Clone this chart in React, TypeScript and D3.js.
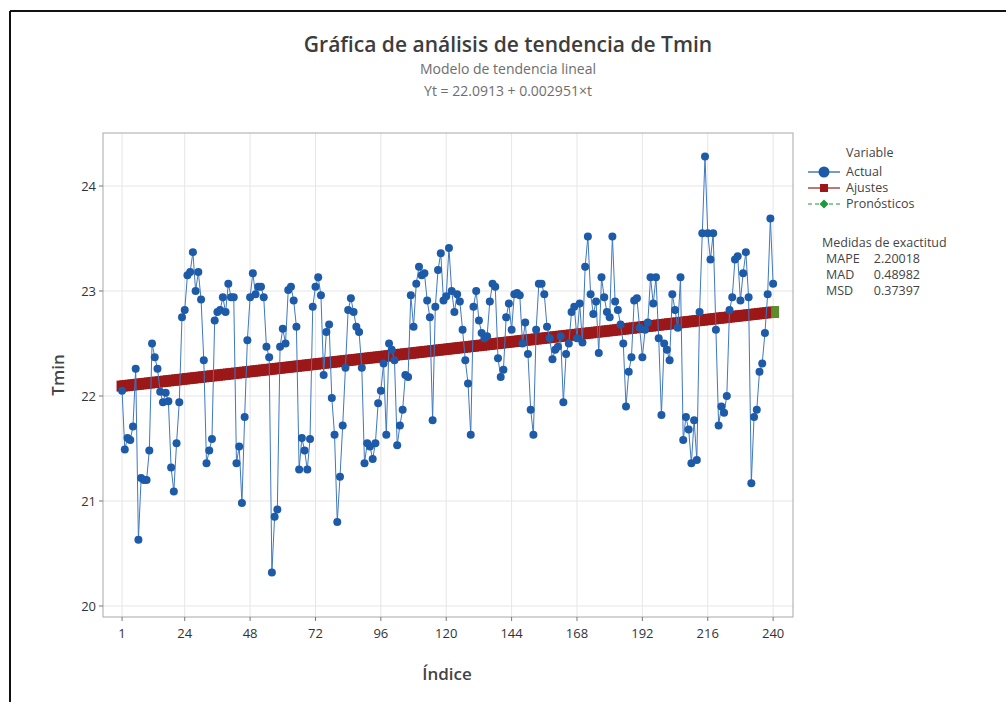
import { useMemo } from 'react'
import * as d3 from 'd3'

// Tmin series (Actual), index 1..240
const actual: number[] = [
  22.05, 21.49, 21.6, 21.58, 21.71, 22.26, 20.63, 21.22, 21.2, 21.2, 21.48, 22.5,
  22.37, 22.26, 22.04, 21.94, 22.03, 21.95, 21.32, 21.09, 21.55, 21.94, 22.75, 22.82,
  23.15, 23.18, 23.37, 23.0, 23.18, 22.92, 22.34, 21.36, 21.48, 21.59, 22.72, 22.8,
  22.82, 22.94, 22.8, 23.07, 22.94, 22.94, 21.36, 21.52, 20.98, 21.8, 22.53, 22.94,
  23.17, 22.97, 23.04, 23.04, 22.94, 22.47, 22.37, 20.32, 20.85, 20.92, 22.47, 22.64,
  22.5, 23.01, 23.04, 22.91, 22.66, 21.3, 21.6, 21.48, 21.3, 21.59, 22.85, 23.04,
  23.13, 22.96, 22.2, 22.61, 22.68, 21.98, 21.63, 20.8, 21.23, 21.72, 22.27, 22.82,
  22.93, 22.8, 22.66, 22.61, 22.27, 21.36, 21.55, 21.52, 21.4, 21.55, 21.93, 22.05,
  22.31, 21.63, 22.5, 22.44, 22.34, 21.53, 21.72, 21.87, 22.2, 22.18, 22.96, 22.66,
  23.07, 23.23, 23.15, 23.17, 22.91, 22.75, 21.77, 22.85, 23.2, 23.36, 22.91, 22.95,
  23.41, 23.0, 22.8, 22.97, 22.9, 22.63, 22.34, 22.12, 21.63, 22.85, 23.0, 22.72,
  22.6, 22.55, 22.57, 22.9, 23.07, 23.04, 22.36, 22.18, 22.25, 22.75, 22.88, 22.63,
  22.97, 22.98, 22.96, 22.5, 22.7, 22.4, 21.87, 21.63, 22.63, 23.07, 23.07, 22.97,
  22.66, 22.55, 22.35, 22.44, 22.47, 22.57, 21.94, 22.4, 22.5, 22.8, 22.85, 22.55,
  22.88, 22.51, 23.23, 23.52, 22.97, 22.78, 22.9, 22.41, 23.13, 22.94, 22.8, 22.75,
  23.52, 22.9, 22.82, 22.68, 22.5, 21.9, 22.23, 22.37, 22.91, 22.93, 22.65, 22.37,
  22.63, 22.7, 23.13, 22.88, 23.13, 22.55, 21.82, 22.5, 22.44, 22.34, 22.97, 22.82,
  22.65, 23.13, 21.58, 21.8, 21.68, 21.36, 21.77, 21.39, 22.8, 23.55, 24.28, 23.55,
  23.3, 23.55, 22.63, 21.72, 21.9, 21.84, 22.0, 22.82, 22.94, 23.3, 23.33, 22.91,
  23.17, 23.37, 22.94, 21.17, 21.8, 21.87, 22.23, 22.31, 22.6, 22.97, 23.69, 23.07,
]

// linear trend model shown in the subtitle
const trendIntercept = 22.0913
const trendSlope = 0.002951

const xTicks = [1, 24, 48, 72, 96, 120, 144, 168, 192, 216, 240]
const yTicks = [20, 21, 22, 23, 24]

const accuracyLabels = ['MAPE', 'MAD', 'MSD']
const accuracyValues = ['2.20018', '0.48982', '0.37397']

const legendItems = [
  { name: 'Actual', color: '#1d5aa8', shape: 'circle', dash: '' },
  { name: 'Ajustes', color: '#9c1818', shape: 'square', dash: '' },
  { name: 'Pronósticos', color: '#1a9a3a', shape: 'diamond', dash: '4,3' },
]

const FONT = "'Open Sans', 'Noto Sans', sans-serif"

export default function App() {
  const W = 1006
  const H = 702
  const plot = { left: 103, right: 793, top: 133, bottom: 617 }

  const x = useMemo(() => d3.scaleLinear().domain([-6, 247.3]).range([plot.left, plot.right]), [])
  const y = useMemo(() => d3.scaleLinear().domain([19.895, 24.505]).range([plot.bottom, plot.top]), [])

  const idx = actual.map((_, i) => i + 1)
  const fits = idx.map(t => trendIntercept + trendSlope * t)

  const actualLine = d3.line<number>().x((_, i) => x(i + 1)).y(d => y(d))(actual) || ''
  const fitLine = d3.line<number>().x((_, i) => x(i + 1)).y(d => y(d))(fits) || ''

  const sq = 11
  const blue = legendItems[0].color
  const red = legendItems[1].color

  return (
    <svg width={W} height={H} style={{ position: 'absolute', left: 0, top: 0, background: '#fff' }} fontFamily={FONT}>
      {/* outer frame */}
      <line x1={10} y1={11} x2={W} y2={11} stroke="#111" strokeWidth={2} />
      <line x1={10} y1={11} x2={10} y2={H} stroke="#111" strokeWidth={2} />

      {/* titles */}
      <text x={508} y={52} textAnchor="middle" fontSize={21} fontWeight={600} fill="#3d3d3d">
        Gráfica de análisis de tendencia de Tmin
      </text>
      <text x={508} y={74} textAnchor="middle" fontSize={14} fill="#6e6e6e">Modelo de tendencia lineal</text>
      <text x={508} y={96} textAnchor="middle" fontSize={14} fill="#6e6e6e">Yt = 22.0913 + 0.002951×t</text>

      {/* plot area */}
      <rect x={plot.left} y={plot.top} width={plot.right - plot.left} height={plot.bottom - plot.top} fill="#fff" />
      {yTicks.map(t => (
        <line key={'gy' + t} x1={plot.left} x2={plot.right} y1={y(t)} y2={y(t)} stroke="#e6e6e6" />
      ))}
      {xTicks.map(t => (
        <line key={'gx' + t} x1={x(t)} x2={x(t)} y1={plot.top} y2={plot.bottom} stroke="#e6e6e6" />
      ))}
      <rect x={plot.left} y={plot.top} width={plot.right - plot.left} height={plot.bottom - plot.top}
        fill="none" stroke="#a8a8a8" />

      {/* axes ticks and labels */}
      {yTicks.map(t => (
        <g key={'ty' + t}>
          <line x1={plot.left - 4} x2={plot.left} y1={y(t)} y2={y(t)} stroke="#777" />
          <text x={plot.left - 7} y={y(t)} dy="0.35em" textAnchor="end" fontSize={13} fill="#333">{t}</text>
        </g>
      ))}
      {xTicks.map(t => (
        <g key={'tx' + t}>
          <line x1={x(t)} x2={x(t)} y1={plot.bottom} y2={plot.bottom + 4} stroke="#777" />
          <text x={x(t)} y={plot.bottom + 21} textAnchor="middle" fontSize={13} fill="#333">{t}</text>
        </g>
      ))}
      <text x={447} y={680} textAnchor="middle" fontSize={17} fontWeight={600} fill="#444">Índice</text>
      <text transform={`translate(64,${(plot.top + plot.bottom) / 2}) rotate(-90)`} textAnchor="middle"
        fontSize={17} fontWeight={600} fill="#444">Tmin</text>

      {/* fits */}
      <path d={fitLine} fill="none" stroke={red} strokeWidth={1} />
      {fits.map((v, i) => (
        <rect key={'f' + i} x={x(i + 1) - sq / 2} y={y(v) - sq / 2} width={sq} height={sq} fill={red} />
      ))}
      <rect x={x(240) - 2} y={y(fits[239]) - 6} width={8} height={12} fill="#5e8c2c" />

      {/* actual */}
      <path d={actualLine} fill="none" stroke="#3f78c0" strokeWidth={1} />
      {actual.map((v, i) => (
        <circle key={'a' + i} cx={x(i + 1)} cy={y(v)} r={4} fill={blue} />
      ))}

      {/* legend */}
      <text x={846} y={157} fontSize={12.5} fill="#444">Variable</text>
      {legendItems.map((it, i) => {
        const cy = 172 + i * 16
        return (
          <g key={it.name}>
            <line x1={808} x2={840} y1={cy} y2={cy} stroke={it.color} strokeWidth={1.2} strokeDasharray={it.dash} />
            {it.shape === 'circle' && <circle cx={824} cy={cy} r={5.5} fill={it.color} />}
            {it.shape === 'square' && <rect x={820} y={cy - 4} width={8} height={8} fill={it.color} />}
            {it.shape === 'diamond' && (
              <path d={`M824,${cy - 4.5}L828.5,${cy}L824,${cy + 4.5}L819.5,${cy}Z`} fill={it.color} />
            )}
            <text x={846} y={cy} dy="0.35em" fontSize={12.5} fill="#444">{it.name}</text>
          </g>
        )
      })}
      <text x={822} y={247} fontSize={12.5} fill="#444">Medidas de exactitud</text>
      {accuracyLabels.map((lab, i) => (
        <g key={lab}>
          <text x={826} y={263 + i * 16} fontSize={12.5} fill="#444">{lab}</text>
          <text x={920} y={263 + i * 16} textAnchor="end" fontSize={12.5} fill="#444">{accuracyValues[i]}</text>
        </g>
      ))}
    </svg>
  )
}
